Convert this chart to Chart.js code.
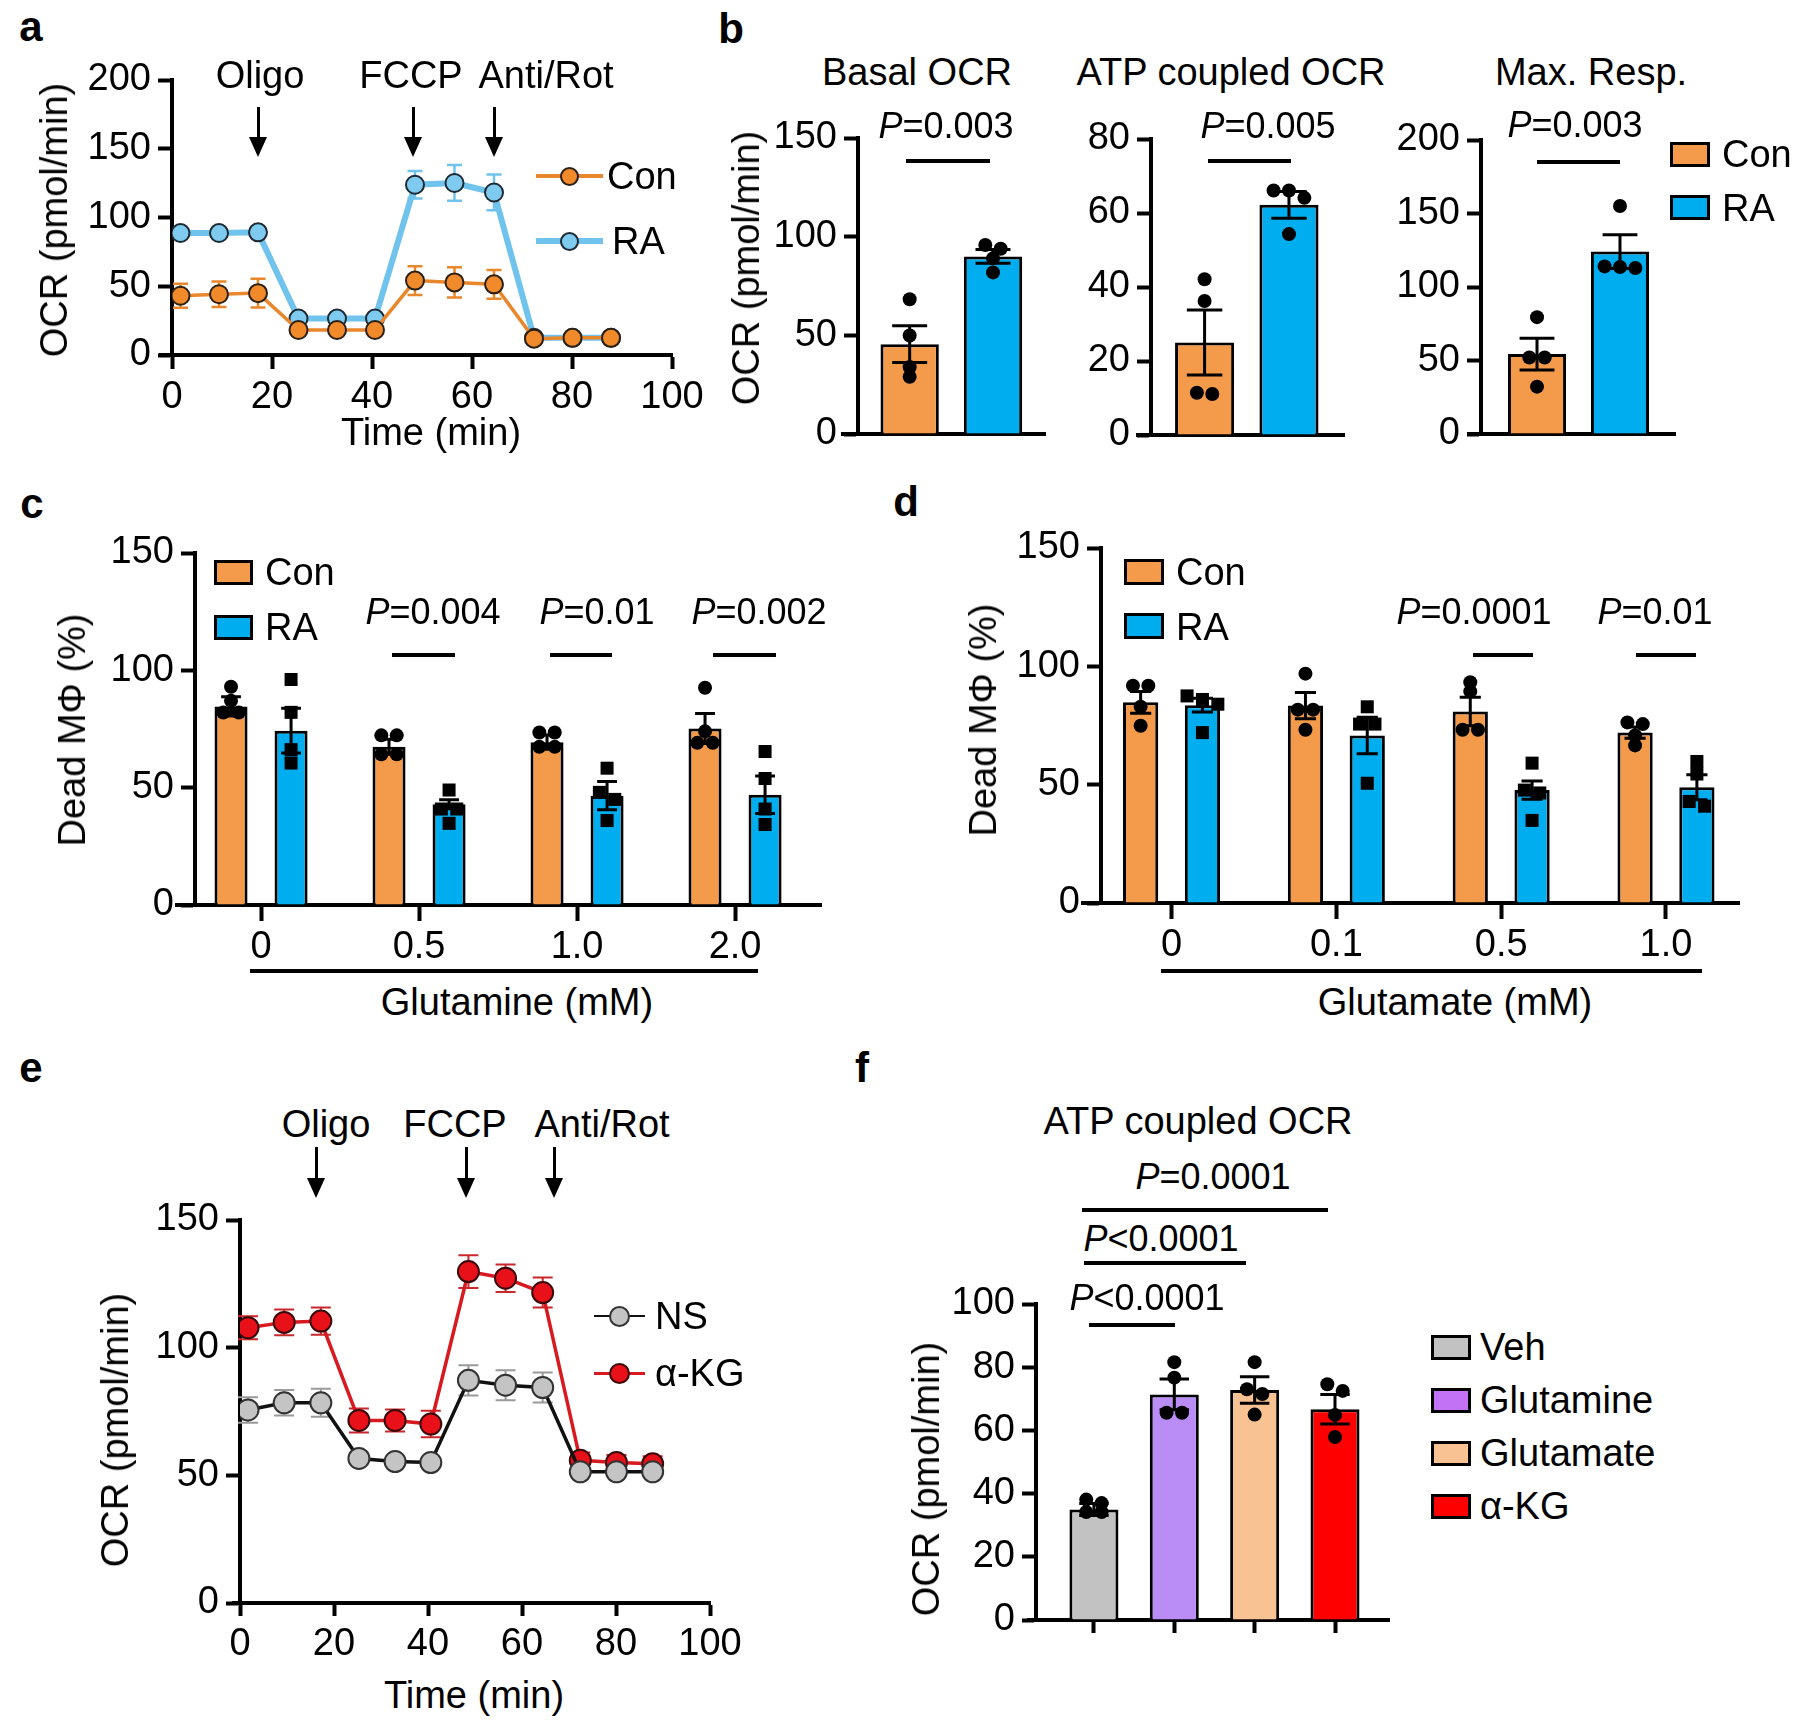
<!DOCTYPE html>
<html>
<head>
<meta charset="utf-8">
<script src="https://cdn.jsdelivr.net/npm/chart.js@4.4.0/dist/chart.umd.min.js"></script>
<style>
html,body{margin:0;padding:0;background:#fff;}
#fig{position:relative;width:1800px;height:1732px;overflow:hidden;font-family:"Liberation Sans",Arial,sans-serif;color:#000;}
#fig canvas{position:absolute;}
.t{position:absolute;white-space:nowrap;font-size:38px;line-height:1;transform:translate(-50%,-50%);}
.l{position:absolute;white-space:nowrap;font-size:38px;line-height:1;transform:translate(0,-50%);}
.p{position:absolute;white-space:nowrap;font-size:36px;line-height:1;transform:translate(-50%,-50%);}
.yl{position:absolute;white-space:nowrap;font-size:38px;line-height:1;transform:translate(-50%,-50%) rotate(-90deg);}
.pl{position:absolute;font-weight:bold;font-size:42px;line-height:1;transform:translate(-50%,-50%);}
.hl{position:absolute;background:#000;}
.sw{position:absolute;border:3px solid #000;box-sizing:border-box;}
</style>
</head>
<body>
<div id="fig"></div>
<script>
// ---------- DATA ----------
// a : OCR trace, Con vs RA
const timeMin   = [1.7, 9.4, 17.2, 25.3, 33, 40.6, 48.6, 56.5, 64.4, 72.4, 80.1, 87.8];
const ocrCon    = [43.1, 44.2, 45, 18.2, 18.2, 18.2, 54.1, 52.8, 51.4, 11.9, 12.5, 12.5];
const ocrConSem = [8.7, 9.3, 10.5, 1, 1, 1, 10.5, 11, 10.5, 1, 1, 1];
const ocrRA     = [88.7, 88.7, 89.2, 26.5, 26.5, 26.5, 123.8, 125.1, 118.2, 12.5, 12.5, 12.5];
const ocrRASem  = [1, 1, 1, 1, 1, 1, 10, 13, 13, 1, 1, 1];

// b : Basal / ATP coupled / Max. resp., Con vs RA
const groupsB   = ['Con', 'RA'];
const basalMean = [45.5, 90.0];
const basalSem  = [9.3, 3.5];
const basalDots = [[68.3, 49.9, 33.9, 29], [95.8, 93.9, 89, 81.9]];
const atpMean   = [25, 62.2];
const atpSem    = [8.8, 3.6];
const atpDots   = [[42.1, 36.2, 11.1, 11.4], [66.1, 66.1, 64.1, 54.3]];
const maxMean   = [54.4, 124.1];
const maxSem    = [10.8, 11.5];
const maxDots   = [[79.5, 52, 52, 32.2], [155.1, 112.9, 114, 113.6]];

// c : glutamine
const glnDose    = ['0', '0.5', '1.0', '2.0'];
const glnConMean = [84.6, 67.4, 69.4, 75.2];
const glnConSem  = [4.1, 3.2, 3.0, 6.4];
const glnConDots = [[93, 87, 82, 82], [72.3, 72.3, 64.2, 64.2], [73.5, 73.5, 67.4, 67.4], [92.6, 74, 69.1, 69.1]];
const glnRAMean  = [74.3, 42.9, 46.6, 47];
const glnRASem   = [9.5, 1.9, 6, 8];
const glnRADots  = [[96.1, 82.1, 66.2, 60.5], [49, 40.9, 40.9, 34.8], [58.3, 48, 45, 36], [65.4, 53.9, 40.9, 34.3]];

// d : glutamate
const gluDose    = ['0', '0.1', '0.5', '1.0'];
const gluConMean = [84.8, 83.4, 80.9, 72];
const gluConSem  = [4.6, 5.5, 6, 2.4];
const gluConDots = [[91.8, 91.8, 82.9, 74.9], [96.9, 81.7, 81.7, 73.2], [93.3, 89.4, 73.2, 73.2], [75.6, 76.3, 70.8, 66.6]];
const gluRAMean  = [83.6, 70.8, 47.7, 48.9];
const gluRASem   = [2.9, 7.7, 3.9, 5.3];
const gluRADots  = [[87.5, 86, 84, 72], [82.9, 75.6, 75.6, 50.6], [59.1, 47.7, 46.5, 34.9], [59.8, 54.5, 40.9, 42.9]];

// e : OCR trace, NS vs a-KG
const ocrNS     = [75.6, 78.4, 78.4, 56.6, 55.4, 55, 87.2, 85.3, 84.4, 51.4, 51.4, 51.4];
const ocrNSSem  = [5, 5, 5.5, 1, 1, 1, 5.9, 5.9, 5.9, 1, 1, 1];
const ocrAKG    = [107.8, 109.9, 110.4, 71.5, 71.5, 70.1, 129.8, 127.2, 121.6, 55.9, 55, 54.5];
const ocrAKGSem = [4.5, 5, 5.3, 4.7, 4.3, 5.2, 6.4, 5.4, 5.9, 3, 3, 3];

// f : ATP coupled OCR with substrates
const groupsF = ['Veh', 'Glutamine', 'Glutamate', 'α-KG'];
const fMean   = [35, 71.4, 72.8, 66.7];
const fSem    = [1.9, 4.9, 4.2, 4.7];
const fDots   = [[38.1, 37, 34.2, 34.2], [81.6, 76.7, 65.6, 65.6], [81.6, 73, 71.5, 65], [72.5, 74.6, 64.9, 57.9]];

// ---------- colours ----------
const CON_BAR = '#F39A4B', RA_BAR = '#00AEEF';
const CON_LINE = '#E9872C', CON_PT = '#F08A2A';
const RA_LINE = '#6FC3EC', RA_PT = '#7FCBF0';
const NS_PT = '#C4C4C4', AKG_LINE = '#D71920', AKG_PT = '#E8111A';
const F_COL = ['#C2C2C2', '#B98CF6', '#F8C293', '#FF0000'];
const F_LEG = ['#C2C2C2', '#C272F5', '#F8C293', '#FF0000'];

Chart.defaults.font.family = '"Liberation Sans", Arial, sans-serif';
Chart.defaults.font.size = 38;
Chart.defaults.color = '#000';

const fig = document.getElementById('fig');

// ---------- plugins : error bars, scatter dots, x axis stub ----------
function spread(py, d) {
  const s = py.slice().sort((a, b) => a - b), out = [];
  let k = 0;
  while (k < s.length) {
    let n = 1;
    while (k + n < s.length && s[k + n] - s[k] < d * 0.6) n++;
    for (let q = 0; q < n; q++) out.push({ y: s[k + q], dx: (q - (n - 1) / 2) * d * 1.1 });
    k += n;
  }
  return out;
}

function drawErr(chart, behind) {
  const ctx = chart.ctx, ys = chart.scales.y;
  chart.data.datasets.forEach((ds, i) => {
    if (!ds.sem || !!ds.errBehind !== behind) return;
    const meta = chart.getDatasetMeta(i);
    ctx.save();
    ctx.strokeStyle = ds.errColor || '#000';
    ctx.lineWidth = ds.errWidth || 3;
    meta.data.forEach((e, j) => {
      const v = ds.data[j].y, s = ds.sem[j];
      const cap = ds.capW != null ? ds.capW : e.width * 0.6;
      const y1 = ys.getPixelForValue(v + s), y2 = ys.getPixelForValue(v - s);
      ctx.beginPath();
      ctx.moveTo(e.x, y1); ctx.lineTo(e.x, y2);
      ctx.moveTo(e.x - cap / 2, y1); ctx.lineTo(e.x + cap / 2, y1);
      ctx.moveTo(e.x - cap / 2, y2); ctx.lineTo(e.x + cap / 2, y2);
      ctx.stroke();
    });
    ctx.restore();
  });
}

function drawDots(chart) {
  const ctx = chart.ctx, ys = chart.scales.y;
  chart.data.datasets.forEach((ds, i) => {
    if (!ds.dots) return;
    const meta = chart.getDatasetMeta(i);
    ctx.save();
    ctx.fillStyle = '#000';
    meta.data.forEach((e, j) => {
      spread(ds.dots[j].map(v => ys.getPixelForValue(v)), 14).forEach(p => {
        if (ds.dotShape === 'square') {
          ctx.fillRect(e.x + p.dx - 6.5, p.y - 6.5, 13, 13);
        } else {
          ctx.beginPath(); ctx.arc(e.x + p.dx, p.y, 7, 0, Math.PI * 2); ctx.fill();
        }
      });
    });
    ctx.restore();
  });
}

const errPlugin = {
  id: 'errDots',
  beforeDatasetsDraw(chart) { drawErr(chart, true); },
  afterDatasetsDraw(chart) { drawErr(chart, false); drawDots(chart); }
};
const stubPlugin = {
  id: 'stub',
  afterDraw(chart, args, o) {
    if (!o || !o.left) return;
    const a = chart.chartArea, ctx = chart.ctx;
    ctx.save(); ctx.fillStyle = '#000';
    ctx.fillRect(a.left - o.left, a.bottom - 2, o.left + 2, 4);
    ctx.restore();
  }
};
Chart.register(errPlugin, stubPlugin);

// ---------- helpers ----------
function zeroPad(s) { s.paddingLeft = 0; s.paddingRight = 0; s.paddingTop = 0; s.paddingBottom = 0; }

function addCanvas(area, m) {
  const c = document.createElement('canvas');
  const w = area.r - area.l + m.l + m.r, h = area.b - area.t + m.t + m.b;
  c.width = w; c.height = h;
  c.style.left = (area.l - m.l) + 'px'; c.style.top = (area.t - m.t) + 'px';
  c.style.width = w + 'px'; c.style.height = h + 'px';
  fig.appendChild(c);
  return c;
}

function yAxis(max, step, m) {
  return {
    type: 'linear', position: 'left', min: 0, max: max,
    border: { display: true, color: '#000', width: 4 },
    grid: { display: true, drawOnChartArea: false, drawTicks: true, tickLength: 14, tickWidth: 4, tickColor: '#000' },
    ticks: { stepSize: step, padding: 7, color: '#000' },
    afterFit: s => { s.width = m.l; zeroPad(s); }
  };
}

function xTime(m, tickLen) {
  return {
    type: 'linear', position: 'bottom', min: 0, max: 100,
    border: { display: true, color: '#000', width: 4 },
    grid: { display: true, drawOnChartArea: false, drawTicks: true, tickLength: tickLen, tickWidth: 4, tickColor: '#000' },
    ticks: { stepSize: 20, padding: 6, autoSkip: false, maxRotation: 0, color: '#000' },
    afterFit: s => { s.height = m.b; zeroPad(s); }
  };
}

function xCat(labels, min, max, m, showLabels, tickLen) {
  return {
    type: 'linear', position: 'bottom', min: min, max: max, bounds: 'data', offset: false,
    border: { display: true, color: '#000', width: 4 },
    grid: { display: tickLen > 0, offset: false, drawOnChartArea: false, drawTicks: true, tickLength: tickLen, tickWidth: 4, tickColor: '#000' },
    ticks: { display: showLabels, padding: 4, autoSkip: false, maxRotation: 0, color: '#000', callback: v => labels[v] },
    afterBuildTicks: s => { s.ticks = labels.map((_, i) => ({ value: i })); },
    afterFit: s => { s.height = m.b; zeroPad(s); }
  };
}

function baseOptions(m, stub, scales) {
  return {
    responsive: false, animation: false, devicePixelRatio: 1,
    layout: { padding: { top: m.t, right: m.r, left: 0, bottom: 0 } },
    plugins: { legend: { display: false }, tooltip: { enabled: false }, stub: { left: stub } },
    scales: scales
  };
}

const xy = (xs, ys) => ys.map((v, i) => ({ x: xs[i], y: v }));
const idx = ys => ys.map((v, i) => ({ x: i, y: v }));

// ---------- panel a ----------
(function () {
  const area = { l: 172, t: 80, r: 672, b: 355 }, m = { l: 130, t: 25, r: 45, b: 70 };
  new Chart(addCanvas(area, m), {
    type: 'line',
    data: { datasets: [
      { data: xy(timeMin, ocrCon), sem: ocrConSem, errBehind: true, errColor: CON_LINE, errWidth: 2.5, capW: 15,
        borderColor: CON_LINE, borderWidth: 3.5, pointRadius: 9, pointBackgroundColor: CON_PT, pointBorderColor: '#2b2016', pointBorderWidth: 2 },
      { data: xy(timeMin, ocrRA), sem: ocrRASem, errBehind: true, errColor: RA_LINE, errWidth: 2.5, capW: 15,
        borderColor: RA_LINE, borderWidth: 6, pointRadius: 9, pointBackgroundColor: RA_PT, pointBorderColor: '#1d2a33', pointBorderWidth: 2 }
    ] },
    options: baseOptions(m, 13, { x: xTime(m, 14), y: yAxis(200, 50, m) })
  });
})();

// ---------- panel b ----------
function panelB(area, mean, sem, dots, ymax, step, xmin, xmax, stub) {
  const m = { l: 120, t: 25, r: 10, b: 10 };
  new Chart(addCanvas(area, m), {
    type: 'bar',
    data: { datasets: [
      { data: idx(mean), sem: sem, dots: dots, backgroundColor: [CON_BAR, RA_BAR], borderColor: '#000', borderWidth: 3,
        categoryPercentage: 1, barPercentage: 0.7 }
    ] },
    options: baseOptions(m, stub, { x: xCat(groupsB, xmin, xmax, m, false, 0), y: yAxis(ymax, step, m) })
  });
}
panelB({ l: 858, t: 138, r: 1045, b: 434 }, basalMean, basalSem, basalDots, 150, 50, -0.62, 1.624, 17);
panelB({ l: 1151, t: 139, r: 1344, b: 435 }, atpMean, atpSem, atpDots, 80, 20, -0.635, 1.652, 15);
panelB({ l: 1481, t: 140, r: 1675, b: 434 }, maxMean, maxSem, maxDots, 200, 50, -0.675, 1.663, 14);

// ---------- panels c, d ----------
function panelCD(area, dose, conM, conS, conD, raM, raS, raD, xmin, xmax, catPct, barPct) {
  const m = { l: 120, t: 25, r: 30, b: 70 };
  new Chart(addCanvas(area, m), {
    type: 'bar',
    data: { datasets: [
      { data: idx(conM), sem: conS, dots: conD, backgroundColor: CON_BAR, borderColor: '#000', borderWidth: 3,
        categoryPercentage: catPct, barPercentage: barPct },
      { data: idx(raM), sem: raS, dots: raD, dotShape: 'square', backgroundColor: RA_BAR, borderColor: '#000', borderWidth: 3,
        categoryPercentage: catPct, barPercentage: barPct }
    ] },
    options: baseOptions(m, 20, { x: xCat(dose, xmin, xmax, m, true, 16), y: yAxis(150, 50, m) })
  });
}
panelCD({ l: 195, t: 553, r: 821, b: 905 }, glnDose, glnConMean, glnConSem, glnConDots, glnRAMean, glnRASem, glnRADots, -0.418, 3.544, 0.76, 0.55);
panelCD({ l: 1101, t: 548, r: 1739, b: 903 }, gluDose, gluConMean, gluConSem, gluConDots, gluRAMean, gluRASem, gluRADots, -0.428, 3.443, 0.75, 0.57);

// ---------- panel e ----------
(function () {
  const area = { l: 240, t: 1220, r: 710, b: 1603 }, m = { l: 120, t: 25, r: 45, b: 70 };
  new Chart(addCanvas(area, m), {
    type: 'line',
    data: { datasets: [
      { data: xy(timeMin, ocrNS), sem: ocrNSSem, errBehind: true, errColor: '#9A9A9A', errWidth: 2, capW: 20,
        borderColor: '#111', borderWidth: 3.5, pointRadius: 10.5, pointBackgroundColor: NS_PT, pointBorderColor: '#333', pointBorderWidth: 2 },
      { data: xy(timeMin, ocrAKG), sem: ocrAKGSem, errBehind: true, errColor: '#C8282C', errWidth: 2, capW: 20,
        borderColor: AKG_LINE, borderWidth: 3.5, pointRadius: 10.5, pointBackgroundColor: AKG_PT, pointBorderColor: '#3a0a0a', pointBorderWidth: 2 }
    ] },
    options: baseOptions(m, 8, { x: xTime(m, 13), y: yAxis(150, 50, m) })
  });
})();

// ---------- panel f ----------
(function () {
  const area = { l: 1036, t: 1304, r: 1389, b: 1620 }, m = { l: 120, t: 25, r: 10, b: 30 };
  new Chart(addCanvas(area, m), {
    type: 'bar',
    data: { datasets: [
      { data: idx(fMean), sem: fSem, dots: fDots, backgroundColor: F_COL, borderColor: '#000', borderWidth: 3,
        categoryPercentage: 1, barPercentage: 0.61 }
    ] },
    options: baseOptions(m, 9, { x: xCat(groupsF, -0.721, 3.672, m, false, 13), y: yAxis(100, 20, m) })
  });
})();

// ---------- text, legends, arrows, brackets ----------
function add(cls, x, y, html, extra) {
  const d = document.createElement('div');
  d.className = cls; d.style.left = x + 'px'; d.style.top = y + 'px';
  d.innerHTML = html;
  if (extra) Object.assign(d.style, extra);
  fig.appendChild(d);
  return d;
}
function hline(x1, x2, y, th, col) {
  add('hl', x1, y - th / 2, '', { width: (x2 - x1) + 'px', height: th + 'px', background: col || '#000' });
}
function arrow(x, y1, y2) {
  add('hl', x - 1.5, y1, '', { width: '3px', height: (y2 - y1 - 16) + 'px' });
  add('hl', x - 9, y2 - 20, '', { width: '0', height: '0', background: 'transparent',
    borderLeft: '9px solid transparent', borderRight: '9px solid transparent', borderTop: '20px solid #000' });
}
function swatch(x, y, w, h, col) { add('sw', x, y, '', { width: w + 'px', height: h + 'px', background: col }); }
function dotKey(x, y, r, fill, edge) {
  add('hl', x - r, y - r, '', { width: 2 * r + 'px', height: 2 * r + 'px', borderRadius: '50%', background: fill,
    border: '2px solid ' + edge, boxSizing: 'border-box' });
}
const P = s => '<i>P</i>' + s;

// panel letters
add('pl', 31, 27, 'a'); add('pl', 731, 29, 'b'); add('pl', 32, 504, 'c');
add('pl', 906, 502, 'd'); add('pl', 31, 1068, 'e'); add('pl', 862, 1068, 'f');

// a
add('t', 260, 75, 'Oligo'); add('t', 411, 75, 'FCCP'); add('t', 546, 75, 'Anti/Rot');
arrow(258, 107, 157); arrow(413, 107, 157); arrow(494, 107, 157);
add('yl', 54, 220, 'OCR (pmol/min)');
add('t', 431, 432, 'Time (min)');
hline(536, 603, 176, 3.5, CON_LINE); dotKey(569, 176, 9.5, CON_PT, '#2b2016'); add('l', 607, 176, 'Con');
hline(536, 603, 241, 6, RA_LINE); dotKey(569, 241, 9.5, RA_PT, '#1d2a33'); add('l', 612, 241, 'RA');

// b
add('t', 917, 72, 'Basal OCR'); add('t', 1231, 72, 'ATP coupled OCR'); add('t', 1591, 72, 'Max. Resp.');
add('p', 946, 126, P('=0.003')); add('p', 1268, 126, P('=0.005')); add('p', 1575, 125, P('=0.003'));
hline(906, 990, 161, 4); hline(1208, 1291, 161, 4); hline(1537, 1620, 162, 4);
add('yl', 746, 268, 'OCR (pmol/min)');
swatch(1670, 142, 40, 25, CON_BAR); add('l', 1722, 154, 'Con');
swatch(1670, 195, 40, 25, RA_BAR); add('l', 1722, 208, 'RA');

// c
add('yl', 72, 730, 'Dead MΦ (%)');
swatch(214, 560, 39, 25, CON_BAR); add('l', 265, 572, 'Con');
swatch(214, 615, 39, 25, RA_BAR); add('l', 265, 627, 'RA');
add('p', 433, 612, P('=0.004')); add('p', 597, 612, P('=0.01')); add('p', 759, 612, P('=0.002'));
hline(392, 455, 655, 4); hline(550, 612, 655, 4); hline(713, 776, 655, 4);
hline(250, 758, 971, 4);
add('t', 517, 1002, 'Glutamine (mM)');

// d
add('yl', 983, 720, 'Dead MΦ (%)');
swatch(1124, 559, 40, 26, CON_BAR); add('l', 1176, 572, 'Con');
swatch(1124, 613, 40, 26, RA_BAR); add('l', 1176, 627, 'RA');
add('p', 1474, 612, P('=0.0001')); add('p', 1655, 612, P('=0.01'));
hline(1473, 1533, 655, 4); hline(1636, 1696, 655, 4);
hline(1161, 1702, 971, 4);
add('t', 1455, 1002, 'Glutamate (mM)');

// e
add('t', 326, 1124, 'Oligo'); add('t', 455, 1124, 'FCCP'); add('t', 602, 1124, 'Anti/Rot');
arrow(316, 1147, 1198); arrow(466, 1147, 1198); arrow(554, 1147, 1198);
add('yl', 115, 1430, 'OCR (pmol/min)');
add('t', 474, 1695, 'Time (min)');
hline(594, 645, 1316, 2.5, '#111'); dotKey(619, 1316, 10.5, NS_PT, '#333'); add('l', 655, 1316, 'NS');
hline(594, 645, 1373, 3, AKG_LINE); dotKey(619, 1373, 10.5, AKG_PT, '#3a0a0a'); add('l', 655, 1373, 'α-KG');

// f
add('t', 1198, 1121, 'ATP coupled OCR');
add('p', 1213, 1177, P('=0.0001')); add('p', 1161, 1239, P('&lt;0.0001')); add('p', 1147, 1298, P('&lt;0.0001'));
hline(1082, 1328, 1210, 4); hline(1084, 1246, 1263, 4); hline(1089, 1175, 1325, 4);
add('yl', 926, 1479, 'OCR (pmol/min)');
groupsF.forEach((g, i) => {
  swatch(1431, 1335 + 53 * i, 40, 25, F_LEG[i]);
  add('l', 1480, 1347 + 53 * i, g);
});
</script>
</body>
</html>
